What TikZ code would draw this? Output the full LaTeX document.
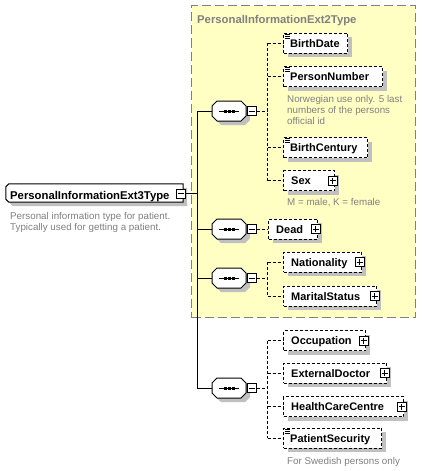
\documentclass[tikz,border=0pt]{standalone}
\usepackage{fontspec}
\setmainfont{Liberation Sans}
\usetikzlibrary{shadows,calc}
\definecolor{ylw}{HTML}{FFFFC4}
\definecolor{shd}{HTML}{C0C0C0}
\definecolor{gtxt}{HTML}{808080}
\tikzset{
  shadowed/.style={drop shadow={shadow xshift=4pt,shadow yshift=-4pt,fill=shd,opacity=1}},
  elem/.style={draw, line width=1pt, dash pattern=on 3pt off 2pt, fill=white, shadowed,
     minimum height=20pt, minimum width=#1, inner sep=0pt, anchor=west},
  lbl/.style={font=\fontsize{11}{13}\selectfont\bfseries, inner sep=0pt, anchor=west, text height=8pt, text depth=0pt},
  biglbl/.style={font=\fontsize{11.3}{13}\selectfont\bfseries, inner sep=0pt, anchor=base west},
  desc/.style={font=\fontsize{9.8}{11}\selectfont, text=gtxt, inner sep=0pt, anchor=base west, align=left},
  pmbox/.style={draw, solid, line width=1pt, fill=white, minimum size=9pt, inner sep=0pt},
  minusbox/.style={pmbox, path picture={\draw[line width=1pt] ([xshift=-3pt]path picture bounding box.center) -- ([xshift=3pt]path picture bounding box.center);}},
  plusbox/.style={pmbox, path picture={\draw[line width=1pt] ([xshift=-3pt]path picture bounding box.center) -- ([xshift=3pt]path picture bounding box.center) ([yshift=-3pt]path picture bounding box.center) -- ([yshift=3pt]path picture bounding box.center);}},
  conn/.style={line width=1pt, dash pattern=on 3pt off 2pt},
  trunk/.style={line width=1pt},
  seqnode/.style={minimum width=34pt, minimum height=20pt, inner sep=0pt},
}
\newcommand\seqcomp[2]{%
  \begin{scope}[shift={(#2)}]
    \node[seqnode] (#1) at (0,0) {};
    \draw[line width=1pt, fill=white, shadowed] (-12,-10) -- (12,-10) -- (17,-5) -- (17,5) -- (12,10) -- (-12,10) -- (-17,5) -- (-17,-5) -- cycle;
    \draw[line width=1pt] (-10,0) -- (10,0);
    \foreach \d in {-4,0,4} \fill (\d-1.5,-1.5) rectangle (\d+1.5,1.5);
  \end{scope}}
\newcommand\simpleicon[1]{%
  \draw[line width=1pt] ([shift={(1.5pt,-1.5pt)}]#1.north west) -- ++(5,0)
    ([shift={(1.5pt,-3.5pt)}]#1.north west) -- ++(5,0)
    ([shift={(1.5pt,-5.5pt)}]#1.north west) -- ++(5,0);}
\begin{document}
\begin{tikzpicture}[x=1pt,y=-1pt]
\useasboundingbox (0,0) rectangle (421,471);
\fill[white] (0,0) rectangle (421,471);

% yellow group box
\node[draw=gtxt, fill=ylw, line width=1pt, dash pattern=on 9pt off 4pt, minimum width=224pt, minimum height=312pt, inner sep=0pt, anchor=north west] (ext2) at (191,5) {};
\node[biglbl, text=gtxt] (ext2t) at (197,23.3) {PersonalInformationExt2Type};

% root element
\node[minimum width=177pt, minimum height=18pt, inner sep=0pt] (root) at (94.5,193) {};
\draw[line width=1pt, fill=white, shadowed] ($(root.north west)+(3,0)$) -- (root.north east) -- (root.south east) -- ($(root.south west)+(3,0)$) -- ($(root.south west)+(0,-3)$) -- ($(root.north west)+(0,3)$) -- cycle;
\node[biglbl] (roott) at (10,199) {PersonalInformationExt3Type};
\node[minusbox] (rm) at ([xshift=-2pt,yshift=-0.5pt]root.east) {};
\node[desc] (rootd) at (10,230.3) {Personal information type for patient.\\Typically used for getting a patient.};

\coordinate (tk) at (197,0);
\coordinate (v) at (267.5,0);

% compositors
\seqcomp{s1}{229,111}
\seqcomp{s2}{229,229}
\seqcomp{s3}{229,278}
\seqcomp{s4}{229,388}
\node[minusbox] (m1) at ([xshift=6pt]s1.east) {};
\node[minusbox] (m2) at ([xshift=6pt]s2.east) {};
\node[minusbox] (m3) at ([xshift=6pt]s3.east) {};
\node[minusbox] (m4) at ([xshift=6pt]s4.east) {};

% trunk
\draw[trunk] (rm.east) -- (rm.east -| tk);
\draw[trunk] (s1.west -| tk) -- (s4.west -| tk);
\foreach \s in {s1,s2,s3,s4} \draw[trunk] (\s.west -| tk) -- (\s.west);

% group 1
\node[elem=64pt] (bd) at (283,43) {};
\node[lbl] (bdt) at (290,43) {BirthDate};
\simpleicon{bd}
\node[elem=99pt] (pn) at (283,76.5) {};
\node[lbl] (pnt) at (290,76.5) {PersonNumber};
\simpleicon{pn}
\node[desc] (pnd) at (287,124.5) {Norwegian use only. 5 last\\numbers of the persons\\official id};
\node[elem=84pt] (bc) at (283,147.5) {};
\node[lbl] (bct) at (290,147.5) {BirthCentury};
\simpleicon{bc}
\node[elem=51pt] (sex) at (283,180.5) {};
\node[lbl] (sext) at (291,180.5) {Sex};
\node[plusbox] (sexp) at ([xshift=-2.5pt]sex.east) {};
\node[desc] (sexd) at (287,205) {M = male, K = female};
\draw[conn] (m1.east) -- (m1.east -| v);
\draw[conn] (bd.west -| v) -- (sex.west -| v);
\foreach \n in {bd,pn,bc,sex} \draw[conn] (\n.west -| v) -- (\n.west);

% group 2
\node[elem=49pt] (dead) at (268,229) {};
\node[lbl] (deadt) at (276,229) {Dead};
\node[plusbox] (deadp) at ([xshift=-2.5pt]dead.east) {};
\draw[conn] (m2.east) -- (dead.west);

% group 3
\node[elem=78pt] (nat) at (283,262) {};
\node[lbl] (natt) at (291,262) {Nationality};
\node[plusbox] (natp) at ([xshift=-2.5pt]nat.east) {};
\node[elem=93pt] (mar) at (283,296) {};
\node[lbl] (mart) at (291,296) {MaritalStatus};
\node[plusbox] (marp) at ([xshift=-2.5pt]mar.east) {};
\draw[conn] (m3.east) -- (m3.east -| v);
\draw[conn] (nat.west -| v) -- (mar.west -| v);
\foreach \n in {nat,mar} \draw[conn] (\n.west -| v) -- (\n.west);

% group 4
\node[elem=82pt] (occ) at (283,340.5) {};
\node[lbl] (occt) at (291,340.5) {Occupation};
\node[plusbox] (occp) at ([xshift=-2.5pt]occ.east) {};
\node[elem=103pt] (ext) at (283,373) {};
\node[lbl] (extt) at (291,373) {ExternalDoctor};
\node[plusbox] (extp) at ([xshift=-2.5pt]ext.east) {};
\node[elem=120pt] (hcc) at (283,406.5) {};
\node[lbl] (hcct) at (291,406.5) {HealthCareCentre};
\node[plusbox] (hccp) at ([xshift=-2.5pt]hcc.east) {};
\node[elem=98pt] (ps) at (283,438) {};
\node[lbl] (pst) at (290,438) {PatientSecurity};
\simpleicon{ps}
\node[desc] (psd) at (287,464.3) {For Swedish persons only};
\draw[conn] (m4.east) -- (m4.east -| v);
\draw[conn] (occ.west -| v) -- (ps.west -| v);
\foreach \n in {occ,ext,hcc,ps} \draw[conn] (\n.west -| v) -- (\n.west);
\end{tikzpicture}
\end{document}
